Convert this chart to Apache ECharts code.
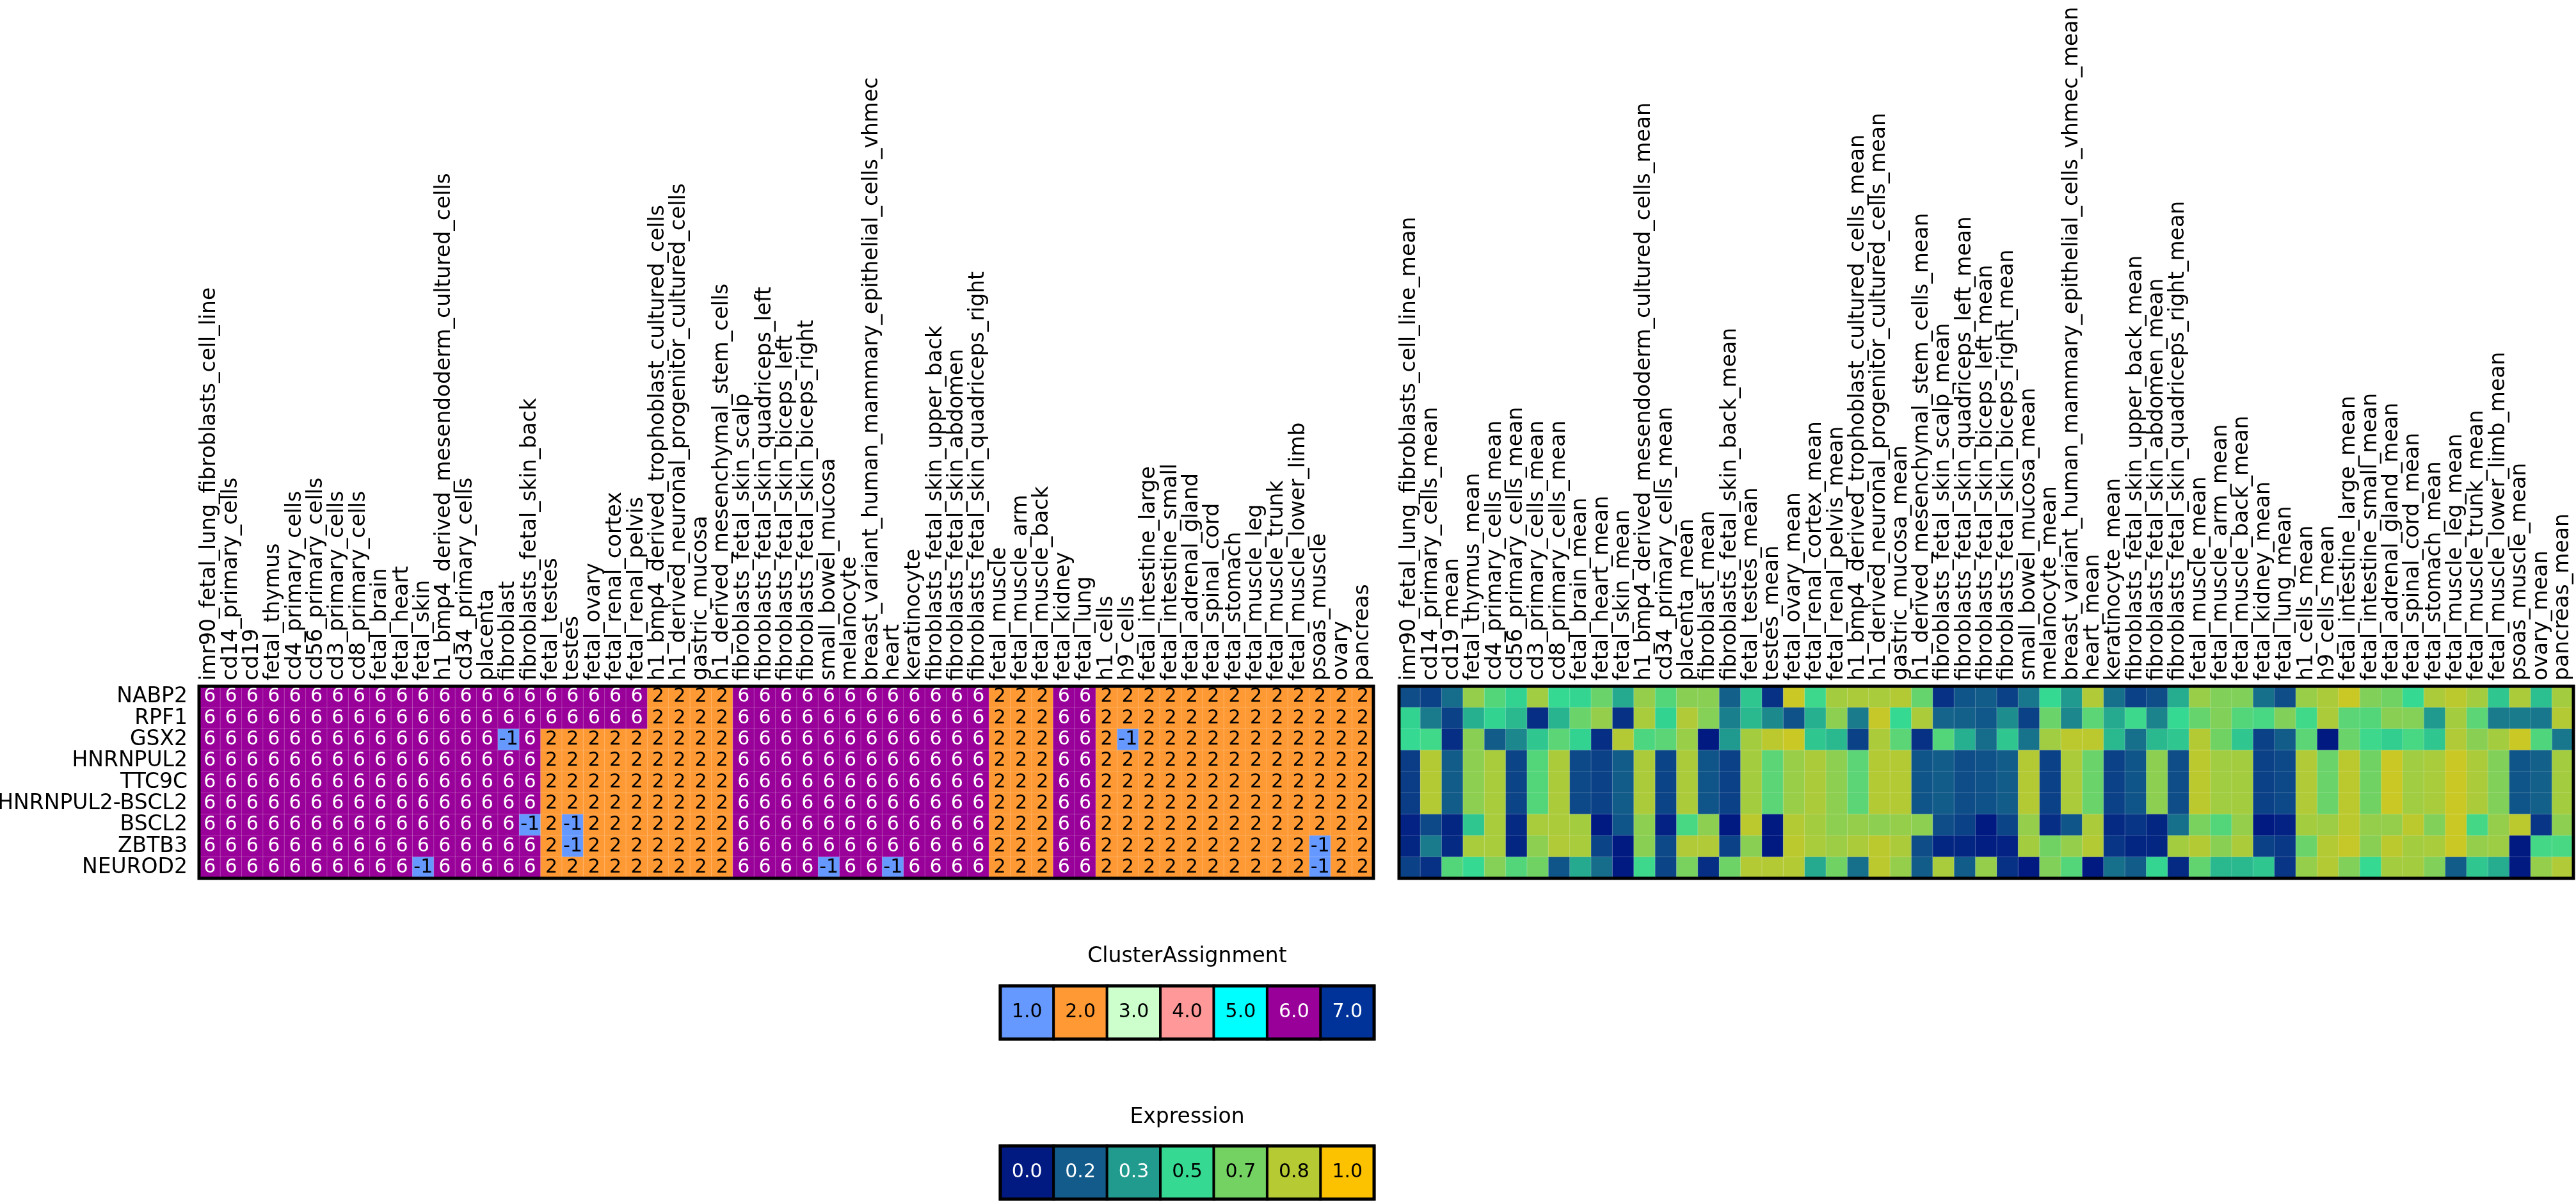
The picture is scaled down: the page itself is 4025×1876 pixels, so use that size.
<!DOCTYPE html>
<html>
<head>
<meta charset="utf-8">
<script src="https://cdn.jsdelivr.net/npm/echarts@6/dist/echarts.min.js"></script>
<style>
html,body{margin:0;padding:0;background:#ffffff;}
#chart{width:4025px;height:1876px;}
</style>
</head>
<body>
<div id="chart"></div>
<script>
// ---------------- DATA ----------------
const genes = ['NABP2','RPF1','GSX2','HNRNPUL2','TTC9C','HNRNPUL2-BSCL2','BSCL2','ZBTB3','NEUROD2'];

const clusterColumns = ['imr90_fetal_lung_fibroblasts_cell_line','cd14_primary_cells','cd19','fetal_thymus','cd4_primary_cells','cd56_primary_cells','cd3_primary_cells','cd8_primary_cells','fetal_brain','fetal_heart','fetal_skin','h1_bmp4_derived_mesendoderm_cultured_cells','cd34_primary_cells','placenta','fibroblast','fibroblasts_fetal_skin_back','fetal_testes','testes','fetal_ovary','fetal_renal_cortex','fetal_renal_pelvis','h1_bmp4_derived_trophoblast_cultured_cells','h1_derived_neuronal_progenitor_cultured_cells','gastric_mucosa','h1_derived_mesenchymal_stem_cells','fibroblasts_fetal_skin_scalp','fibroblasts_fetal_skin_quadriceps_left','fibroblasts_fetal_skin_biceps_left','fibroblasts_fetal_skin_biceps_right','small_bowel_mucosa','melanocyte','breast_variant_human_mammary_epithelial_cells_vhmec','heart','keratinocyte','fibroblasts_fetal_skin_upper_back','fibroblasts_fetal_skin_abdomen','fibroblasts_fetal_skin_quadriceps_right','fetal_muscle','fetal_muscle_arm','fetal_muscle_back','fetal_kidney','fetal_lung','h1_cells','h9_cells','fetal_intestine_large','fetal_intestine_small','fetal_adrenal_gland','fetal_spinal_cord','fetal_stomach','fetal_muscle_leg','fetal_muscle_trunk','fetal_muscle_lower_limb','psoas_muscle','ovary','pancreas'];

const expressionColumns = ['imr90_fetal_lung_fibroblasts_cell_line_mean','cd14_primary_cells_mean','cd19_mean','fetal_thymus_mean','cd4_primary_cells_mean','cd56_primary_cells_mean','cd3_primary_cells_mean','cd8_primary_cells_mean','fetal_brain_mean','fetal_heart_mean','fetal_skin_mean','h1_bmp4_derived_mesendoderm_cultured_cells_mean','cd34_primary_cells_mean','placenta_mean','fibroblast_mean','fibroblasts_fetal_skin_back_mean','fetal_testes_mean','testes_mean','fetal_ovary_mean','fetal_renal_cortex_mean','fetal_renal_pelvis_mean','h1_bmp4_derived_trophoblast_cultured_cells_mean','h1_derived_neuronal_progenitor_cultured_cells_mean','gastric_mucosa_mean','h1_derived_mesenchymal_stem_cells_mean','fibroblasts_fetal_skin_scalp_mean','fibroblasts_fetal_skin_quadriceps_left_mean','fibroblasts_fetal_skin_biceps_left_mean','fibroblasts_fetal_skin_biceps_right_mean','small_bowel_mucosa_mean','melanocyte_mean','breast_variant_human_mammary_epithelial_cells_vhmec_mean','heart_mean','keratinocyte_mean','fibroblasts_fetal_skin_upper_back_mean','fibroblasts_fetal_skin_abdomen_mean','fibroblasts_fetal_skin_quadriceps_right_mean','fetal_muscle_mean','fetal_muscle_arm_mean','fetal_muscle_back_mean','fetal_kidney_mean','fetal_lung_mean','h1_cells_mean','h9_cells_mean','fetal_intestine_large_mean','fetal_intestine_small_mean','fetal_adrenal_gland_mean','fetal_spinal_cord_mean','fetal_stomach_mean','fetal_muscle_leg_mean','fetal_muscle_trunk_mean','fetal_muscle_lower_limb_mean','psoas_muscle_mean','ovary_mean','pancreas_mean'];

// Cluster assignment per gene (55 columns)
const clusterNABP2 = [6,6,6,6,6,6,6,6,6,6, 6,6,6,6,6,6,6,6,6,6, 6,2,2,2,2,6,6,6,6,6, 6,6,6,6,6,6,6,2,2,2, 6,6,2,2,2,2,2,2,2,2, 2,2,2,2,2];
const clusterRPF1  = [6,6,6,6,6,6,6,6,6,6, 6,6,6,6,6,6,6,6,6,6, 6,2,2,2,2,6,6,6,6,6, 6,6,6,6,6,6,6,2,2,2, 6,6,2,2,2,2,2,2,2,2, 2,2,2,2,2];
const clusterGSX2  = [6,6,6,6,6,6,6,6,6,6, 6,6,6,6,-1,6,2,2,2,2, 2,2,2,2,2,6,6,6,6,6, 6,6,6,6,6,6,6,2,2,2, 6,6,2,-1,2,2,2,2,2,2, 2,2,2,2,2];
const clusterHNRNPUL2 = [6,6,6,6,6,6,6,6,6,6, 6,6,6,6,6,6,2,2,2,2, 2,2,2,2,2,6,6,6,6,6, 6,6,6,6,6,6,6,2,2,2, 6,6,2,2,2,2,2,2,2,2, 2,2,2,2,2];
const clusterTTC9C = [6,6,6,6,6,6,6,6,6,6, 6,6,6,6,6,6,2,2,2,2, 2,2,2,2,2,6,6,6,6,6, 6,6,6,6,6,6,6,2,2,2, 6,6,2,2,2,2,2,2,2,2, 2,2,2,2,2];
const clusterHNRNPUL2BSCL2 = [6,6,6,6,6,6,6,6,6,6, 6,6,6,6,6,6,2,2,2,2, 2,2,2,2,2,6,6,6,6,6, 6,6,6,6,6,6,6,2,2,2, 6,6,2,2,2,2,2,2,2,2, 2,2,2,2,2];
const clusterBSCL2 = [6,6,6,6,6,6,6,6,6,6, 6,6,6,6,6,-1,2,-1,2,2, 2,2,2,2,2,6,6,6,6,6, 6,6,6,6,6,6,6,2,2,2, 6,6,2,2,2,2,2,2,2,2, 2,2,2,2,2];
const clusterZBTB3 = [6,6,6,6,6,6,6,6,6,6, 6,6,6,6,6,6,2,-1,2,2, 2,2,2,2,2,6,6,6,6,6, 6,6,6,6,6,6,6,2,2,2, 6,6,2,2,2,2,2,2,2,2, 2,2,-1,2,2];
const clusterNEUROD2 = [6,6,6,6,6,6,6,6,6,6, -1,6,6,6,6,6,2,2,2,2, 2,2,2,2,2,6,6,6,6,-1, 6,6,-1,6,6,6,6,2,2,2, 6,6,2,2,2,2,2,2,2,2, 2,2,-1,2,2];

// Expression (mean) per gene (55 columns)
const exprNABP2 = [0.13,0.10,0.21,0.75,0.58,0.48,0.78,0.50,0.49,0.64, 0.37,0.75,0.58,0.72,0.72,0.18,0.45,0.06,0.88,0.52, 0.79,0.81,0.80,0.83,0.63,0.06,0.15,0.17,0.10,0.24, 0.50,0.33,0.82,0.22,0.10,0.13,0.38,0.76,0.70,0.70, 0.22,0.13,0.76,0.81,0.88,0.70,0.66,0.50,0.81,0.85, 0.79,0.45,0.81,0.43,0.79];
const exprRPF1 = [0.48,0.25,0.10,0.39,0.48,0.41,0.05,0.40,0.64,0.75, 0.06,0.80,0.48,0.82,0.71,0.26,0.41,0.29,0.14,0.39, 0.73,0.25,0.87,0.50,0.81,0.19,0.18,0.16,0.30,0.10, 0.64,0.28,0.60,0.37,0.52,0.27,0.50,0.63,0.70,0.58, 0.55,0.70,0.53,0.81,0.60,0.58,0.72,0.71,0.33,0.79, 0.60,0.25,0.25,0.24,0.83];
const exprGSX2 = [0.50,0.53,0.05,0.72,0.17,0.28,0.45,0.60,0.48,0.05, 0.83,0.56,0.60,0.76,0.00,0.33,0.79,0.85,0.88,0.45, 0.41,0.10,0.81,0.60,0.06,0.58,0.39,0.21,0.45,0.23, 0.78,0.85,0.85,0.41,0.22,0.41,0.45,0.83,0.66,0.45, 0.10,0.17,0.60,0.00,0.64,0.52,0.47,0.55,0.45,0.82, 0.72,0.79,0.88,0.57,0.24];
const exprHNRNPUL2 = [0.09,0.83,0.17,0.73,0.80,0.11,0.58,0.81,0.12,0.10, 0.17,0.81,0.11,0.81,0.15,0.10,0.79,0.60,0.76,0.81, 0.73,0.60,0.83,0.83,0.15,0.17,0.13,0.14,0.17,0.83, 0.10,0.81,0.64,0.10,0.15,0.73,0.13,0.85,0.78,0.79, 0.10,0.12,0.82,0.64,0.85,0.66,0.88,0.78,0.80,0.88, 0.81,0.70,0.15,0.18,0.79];
const exprTTC9C = [0.09,0.83,0.17,0.73,0.80,0.11,0.58,0.81,0.12,0.10, 0.17,0.81,0.11,0.81,0.15,0.10,0.79,0.60,0.76,0.81, 0.73,0.60,0.83,0.83,0.15,0.17,0.13,0.14,0.17,0.83, 0.10,0.81,0.64,0.10,0.15,0.73,0.13,0.85,0.78,0.79, 0.10,0.12,0.82,0.64,0.85,0.66,0.88,0.78,0.80,0.88, 0.81,0.70,0.15,0.18,0.79];
const exprHNRNPUL2BSCL2 = [0.09,0.83,0.17,0.73,0.80,0.11,0.58,0.81,0.12,0.10, 0.17,0.81,0.11,0.81,0.15,0.10,0.79,0.60,0.76,0.81, 0.73,0.60,0.83,0.83,0.15,0.17,0.13,0.14,0.17,0.83, 0.10,0.81,0.64,0.10,0.15,0.73,0.13,0.85,0.78,0.79, 0.10,0.12,0.82,0.64,0.85,0.66,0.88,0.78,0.80,0.88, 0.81,0.70,0.15,0.18,0.79];
const exprBSCL2 = [0.02,0.12,0.03,0.45,0.80,0.04,0.80,0.81,0.79,0.00, 0.15,0.73,0.02,0.55,0.73,0.00,0.85,0.00,0.83,0.79, 0.73,0.75,0.73,0.75,0.73,0.13,0.10,0.00,0.11,0.75, 0.05,0.15,0.81,0.04,0.07,0.03,0.22,0.68,0.58,0.75, 0.00,0.02,0.79,0.77,0.85,0.75,0.75,0.85,0.70,0.88, 0.54,0.75,0.85,0.07,0.73];
const exprZBTB3 = [0.03,0.25,0.04,0.80,0.80,0.03,0.73,0.82,0.80,0.11, 0.00,0.72,0.12,0.82,0.82,0.10,0.72,0.00,0.85,0.80, 0.77,0.81,0.85,0.81,0.13,0.03,0.03,0.01,0.02,0.79, 0.66,0.75,0.83,0.07,0.03,0.03,0.79,0.83,0.72,0.81, 0.10,0.08,0.64,0.83,0.87,0.72,0.85,0.79,0.80,0.88, 0.75,0.77,0.00,0.54,0.55];
const exprNEUROD2 = [0.10,0.06,0.58,0.50,0.71,0.58,0.66,0.15,0.37,0.21, 0.00,0.52,0.11,0.68,0.05,0.65,0.83,0.83,0.83,0.37, 0.66,0.22,0.85,0.75,0.17,0.80,0.17,0.75,0.06,0.00, 0.70,0.58,0.00,0.22,0.17,0.49,0.04,0.62,0.41,0.41, 0.45,0.07,0.75,0.83,0.70,0.50,0.79,0.79,0.70,0.17, 0.45,0.38,0.00,0.75,0.82];

// Legends
const clusterLegendValues = [1,2,3,4,5,6,7];
const clusterLegendLabels = ['1.0','2.0','3.0','4.0','5.0','6.0','7.0'];
const exprLegendValues = [0.0,0.167,0.333,0.5,0.667,0.833,1.0];
const exprLegendLabels = ['0.0','0.2','0.3','0.5','0.7','0.8','1.0'];

// ---------------- STYLE ----------------
const clusterRows = [clusterNABP2,clusterRPF1,clusterGSX2,clusterHNRNPUL2,clusterTTC9C,clusterHNRNPUL2BSCL2,clusterBSCL2,clusterZBTB3,clusterNEUROD2];
const exprRows = [exprNABP2,exprRPF1,exprGSX2,exprHNRNPUL2,exprTTC9C,exprHNRNPUL2BSCL2,exprBSCL2,exprZBTB3,exprNEUROD2];

const clusterPieces = [
  {value:-1, color:'#6699ff'},
  {value:1, color:'#6699ff'},
  {value:2, color:'#ff9933'},
  {value:3, color:'#ccffcc'},
  {value:4, color:'#ff9999'},
  {value:5, color:'#00ffff'},
  {value:6, color:'#990099'},
  {value:7, color:'#003399'}
];
const exprColors = ['#011a82','#125b8a','#209b8e','#35d991','#74d262','#b5ca33','#fcc200'];
const FONT = 'DejaVu Sans';

const clusterData = [];
clusterRows.forEach((row, r) => row.forEach((v, c) => {
  clusterData.push({value:[c, r, v], label:{color: (v === 6 || v === 7) ? '#ffffff' : '#000000'}});
}));
const exprData = [];
exprRows.forEach((row, r) => row.forEach((v, c) => exprData.push([c, r, v])));

const clusterLegendData = clusterLegendValues.map((v, i) => ({
  value:[i, 0, v], label:{color: (v === 6 || v === 7) ? '#ffffff' : '#000000'}
}));
const exprLegendData = exprLegendValues.map((v, i) => ({
  value:[i, 0, v], label:{color: v < 0.4 ? '#ffffff' : '#000000'}
}));

const cellW = 1835;
const gridTop = 1072, gridH = 300;

function catAxis(data, gridIndex, showLabels, extra) {
  return Object.assign({
    type:'category', data:data, gridIndex:gridIndex,
    axisLine:{show:false}, axisTick:{show:false}, splitLine:{show:false},
    axisLabel:{show:showLabels}
  }, extra || {});
}

const topLabel = {show:true, interval:0, rotate:-90, margin:9, fontFamily:FONT, fontSize:33, color:'#000'};
const gridBase = {show:true, borderColor:'#000', borderWidth:5, z:10, backgroundColor:'transparent', containLabel:false, outerBoundsMode:'none'};

const option = {
  animation:false,
  backgroundColor:'#ffffff',
  title:[
    {text:'ClusterAssignment', left:1855, top:1478, textAlign:'center', padding:0,
     textStyle:{fontFamily:FONT, fontSize:33, fontWeight:'normal', color:'#000'}},
    {text:'Expression', left:1855, top:1729, textAlign:'center', padding:0,
     textStyle:{fontFamily:FONT, fontSize:33, fontWeight:'normal', color:'#000'}}
  ],
  grid:[
    Object.assign({left:311, top:gridTop, width:cellW, height:gridH}, gridBase),
    Object.assign({left:2186, top:gridTop, width:cellW, height:gridH}, gridBase),
    Object.assign({left:1563, top:1540, width:584, height:83}, gridBase),
    Object.assign({left:1563, top:1790, width:584, height:83}, gridBase)
  ],
  xAxis:[
    catAxis(clusterColumns, 0, true, {position:'top', axisLabel:topLabel}),
    catAxis(expressionColumns, 1, true, {position:'top', axisLabel:topLabel}),
    catAxis(clusterLegendLabels, 2, false),
    catAxis(exprLegendLabels, 3, false)
  ],
  yAxis:[
    catAxis(genes, 0, true, {inverse:true, axisLabel:{show:true, interval:0, margin:18, fontFamily:FONT, fontSize:33, color:'#000'}}),
    catAxis(genes, 1, false, {inverse:true}),
    catAxis(['c'], 2, false),
    catAxis(['e'], 3, false)
  ],
  visualMap:[
    {type:'piecewise', show:false, seriesIndex:[0,2], dimension:2, pieces:clusterPieces},
    {type:'continuous', show:false, seriesIndex:[1,3], dimension:2, min:0, max:1, inRange:{color:exprColors}}
  ],
  series:[
    {type:'heatmap', xAxisIndex:0, yAxisIndex:0, data:clusterData,
     itemStyle:{borderColor:'rgba(255,255,255,0.22)', borderWidth:1},
     label:{show:true, fontFamily:FONT, fontSize:30, formatter:(p) => String(p.value[2])},
     emphasis:{disabled:true}},
    {type:'heatmap', xAxisIndex:1, yAxisIndex:1, data:exprData,
     itemStyle:{borderColor:'rgba(255,255,255,0.22)', borderWidth:1},
     emphasis:{disabled:true}},
    {type:'heatmap', xAxisIndex:2, yAxisIndex:2, data:clusterLegendData,
     itemStyle:{borderColor:'#000', borderWidth:4},
     label:{show:true, fontFamily:FONT, fontSize:30, formatter:(p) => clusterLegendLabels[p.dataIndex]},
     emphasis:{disabled:true}},
    {type:'heatmap', xAxisIndex:3, yAxisIndex:3, data:exprLegendData,
     itemStyle:{borderColor:'#000', borderWidth:4},
     label:{show:true, fontFamily:FONT, fontSize:30, formatter:(p) => exprLegendLabels[p.dataIndex]},
     emphasis:{disabled:true}}
  ]
};

const chart = echarts.init(document.getElementById('chart'), null, {renderer:'canvas', width:4025, height:1876});
chart.setOption(option);
</script>
</body>
</html>
